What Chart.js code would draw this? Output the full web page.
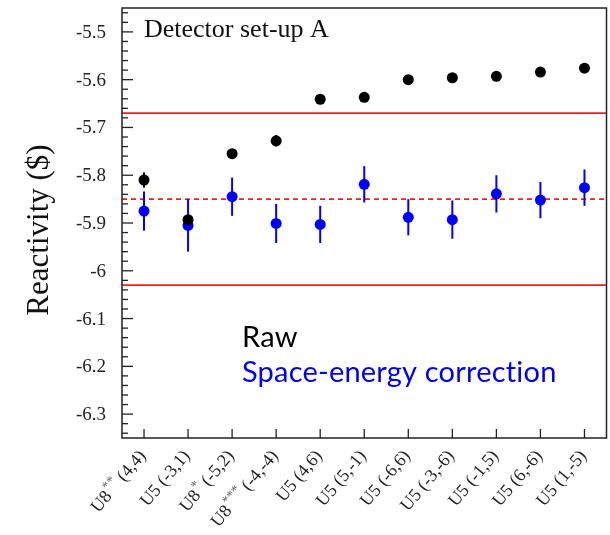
<!DOCTYPE html>
<html>
<head>
<meta charset="utf-8">
<title>Reactivity</title>
<script src="https://cdn.jsdelivr.net/npm/chart.js@4.4.1/dist/chart.umd.min.js"></script>
<style>
  html, body { margin: 0; padding: 0; background: #fff; }
  #chart { display: block; }
</style>
</head>
<body>
<canvas id="chart" width="610" height="535"></canvas>
<script>
const categories = ["U8** (4,4)", "U5 (-3,1)", "U8* (-5,2)", "U8*** (-4,-4)", "U5 (4,6)", "U5 (5,-1)",
  "U5 (-6,6)", "U5 (-3,-6)", "U5 (-1,5)", "U5 (6,-6)", "U5 (1,-5)"];

// raw reactivity and its uncertainty
const raw = [-5.810, -5.893, -5.755, -5.728, -5.641, -5.637, -5.600, -5.596, -5.593, -5.584, -5.576];
const rawErr = [0.016, 0.012, 0.010, 0.012, 0.004, 0.004, 0.004, 0.004, 0.004, 0.004, 0.004];

// after the space-energy correction
const corrected = [-5.875, -5.905, -5.845, -5.901, -5.903, -5.819, -5.888, -5.893, -5.839, -5.852, -5.826];
const correctedErr = [0.041, 0.055, 0.040, 0.041, 0.039, 0.038, 0.038, 0.040, 0.039, 0.038, 0.038];

// reference value and its band
const refMean = -5.85;
const refBand = [-5.67, -6.03];

const yTicks = [-5.5, -5.6, -5.7, -5.8, -5.9, -6, -6.1, -6.2, -6.3];

const SERIF = '"Liberation Serif", "Times New Roman", serif';

const chartEl = document.getElementById("chart");

const decor = {
  id: "decor",
  beforeDatasetsDraw(chart) {
    const { ctx, chartArea: a, scales: { x, y } } = chart;
    ctx.save();

    // reference lines
    ctx.strokeStyle = "#f02020";
    ctx.lineWidth = 1.6;
    refBand.forEach(v => {
      const py = y.getPixelForValue(v);
      ctx.beginPath();
      ctx.moveTo(a.left, py);
      ctx.lineTo(a.right, py);
      ctx.stroke();
    });
    ctx.setLineDash([5, 4]);
    const pm = y.getPixelForValue(refMean);
    ctx.beginPath();
    ctx.moveTo(a.left, pm);
    ctx.lineTo(a.right, pm);
    ctx.stroke();
    ctx.setLineDash([]);

    // error bars
    const bars = [[raw, rawErr, "#000"], [corrected, correctedErr, "#0000ff"]];
    bars.forEach(([vals, errs, color]) => {
      ctx.strokeStyle = color;
      ctx.lineWidth = 2;
      vals.forEach((v, i) => {
        const px = x.getPixelForValue(i);
        ctx.beginPath();
        ctx.moveTo(px, y.getPixelForValue(v + errs[i]));
        ctx.lineTo(px, y.getPixelForValue(v - errs[i]));
        ctx.stroke();
      });
    });
    ctx.restore();
  },
  afterDatasetsDraw(chart) {
    const { ctx, chartArea: a, scales: { x, y } } = chart;
    ctx.save();

    // frame
    ctx.strokeStyle = "#222";
    ctx.lineWidth = 1.5;
    ctx.strokeRect(a.left, a.top, a.right - a.left, a.bottom - a.top);

    // y ticks, pointing inwards, minor every 0.02
    ctx.lineWidth = 1.3;
    for (let k = -317; k <= -273; k++) {
      const py = y.getPixelForValue(k * 0.02);
      const len = k % 5 === 0 ? 11 : 6;
      ctx.beginPath();
      ctx.moveTo(a.left, py);
      ctx.lineTo(a.left + len, py);
      ctx.stroke();
    }
    // x ticks
    categories.forEach((c, i) => {
      const px = x.getPixelForValue(i);
      ctx.beginPath();
      ctx.moveTo(px, a.bottom);
      ctx.lineTo(px, a.bottom - 9);
      ctx.stroke();
    });

    // y tick labels
    ctx.fillStyle = "#222";
    ctx.font = "19px " + SERIF;
    ctx.textAlign = "right";
    ctx.textBaseline = "middle";
    yTicks.forEach(v => {
      ctx.fillText(String(v), 106, y.getPixelForValue(v) + 1);
    });

    // x labels, rotated, with superscript stars
    categories.forEach((c, i) => {
      const m = c.match(/^(\w+)(\*+)?\s(.*)$/);
      const base = m[1], star = m[2] || "", rest = " " + m[3];
      const px = x.getPixelForValue(i);
      ctx.save();
      ctx.translate(px - 1, a.bottom + 15);
      ctx.rotate(-50 * Math.PI / 180);
      ctx.textBaseline = "middle";
      ctx.textAlign = "left";
      ctx.font = "18px " + SERIF;
      const wBase = ctx.measureText(base).width;
      const wRest = ctx.measureText(rest).width;
      ctx.font = "14px " + SERIF;
      const wStar = ctx.measureText(star).width;
      let cx = -(wBase + wStar + wRest);
      ctx.font = "18px " + SERIF;
      ctx.fillStyle = "#222";
      ctx.fillText(base, cx, 0);
      cx += wBase;
      if (star) {
        ctx.font = "14px " + SERIF;
        ctx.fillStyle = "#666";
        ctx.fillText(star, cx + 1, -6);
        cx += wStar;
      }
      ctx.font = "18px " + SERIF;
      ctx.fillStyle = "#222";
      ctx.fillText(rest, cx, 0);
      ctx.restore();
    });

    // axis title
    ctx.save();
    ctx.translate(40, 230);
    ctx.rotate(-Math.PI / 2);
    ctx.textAlign = "center";
    ctx.textBaseline = "middle";
    ctx.font = "31px " + SERIF;
    ctx.fillStyle = "#111";
    ctx.fillText("Reactivity ($)", 0, 0);
    ctx.restore();

    // panel title and legend text
    ctx.textAlign = "left";
    ctx.textBaseline = "alphabetic";
    ctx.font = "26px " + SERIF;
    ctx.fillStyle = "#111";
    ctx.fillText("Detector set-up A", 144, 37);

    ctx.font = "29px Lato, sans-serif";
    // a little letter spacing also stops the "ti" ligature
    ctx.letterSpacing = "0.2px";
    ctx.fillStyle = "#000";
    ctx.fillText("Raw", 242, 347);
    ctx.fillStyle = "#0000ff";
    ctx.fillText("Space-energy correction", 242, 382);
    ctx.restore();
  }
};

const myChart = new Chart(chartEl, {
  type: "line",
  plugins: [decor],
  data: {
    labels: categories,
    datasets: [
      {
        label: "Raw",
        data: raw,
        showLine: false,
        pointRadius: 5.5,
        pointBorderWidth: 0,
        pointBackgroundColor: "#000",
        borderColor: "#000",
      },
      {
        label: "Space-energy correction",
        data: corrected,
        showLine: false,
        pointRadius: 5.5,
        pointBorderWidth: 0,
        pointBackgroundColor: "#0000ff",
        borderColor: "#0000ff",
      },
    ],
  },
  options: {
    responsive: false,
    animation: false,
    layout: { autoPadding: false, padding: { left: 122, right: 3.5, top: 8, bottom: 97 } },
    plugins: {
      legend: { display: false },
      tooltip: { enabled: false },
    },
    scales: {
      x: { type: "category", offset: true, display: false },
      y: { min: -6.35, max: -5.45, display: false },
    },
  },
});
</script>
</body>
</html>
